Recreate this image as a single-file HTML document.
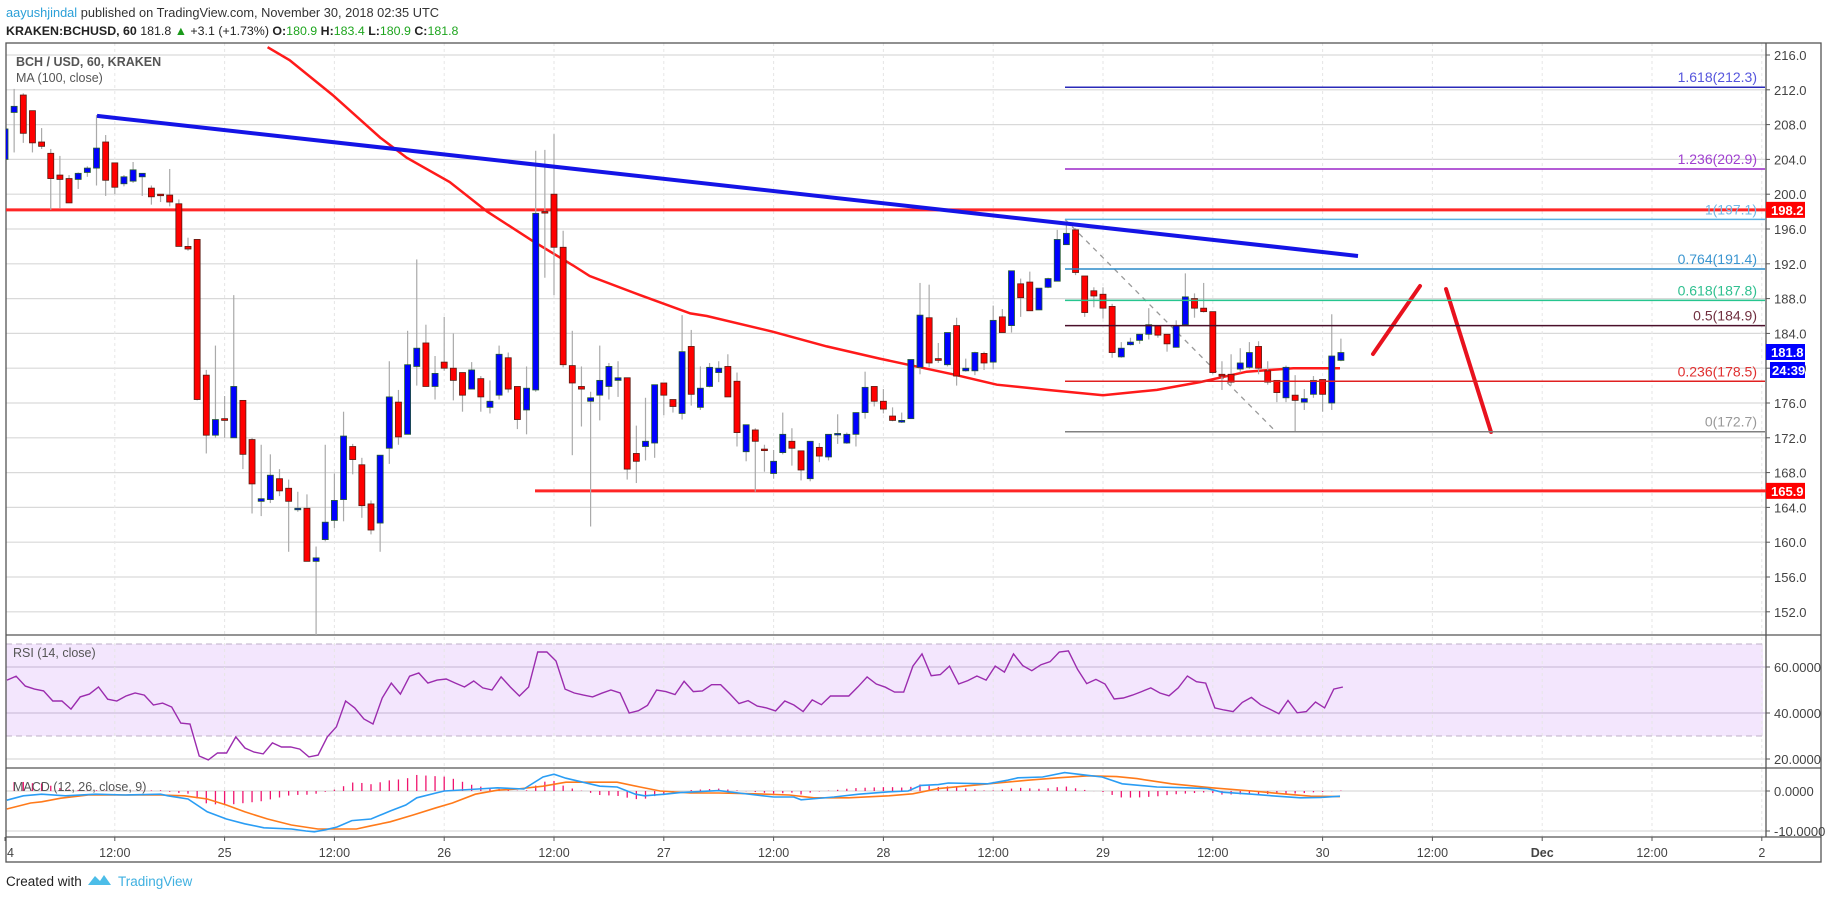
<!DOCTYPE html>
<html><head><meta charset="utf-8"><style>
html,body{margin:0;padding:0;background:#fff;width:1828px;height:899px;overflow:hidden}
svg{display:block;font-family:"Liberation Sans",sans-serif}
</style></head><body>
<svg id="chart" width="1828" height="899" viewBox="0 0 1828 899" xmlns="http://www.w3.org/2000/svg"></svg>
<script>
// ---- data ----
const dayLabels = ["24","12:00","25","12:00","26","12:00","27","12:00","28","12:00","29","12:00","30","12:00","Dec","12:00","2"];
const priceTicks = [216,212,208,204,200,196,192,188,184,180,176,172,168,164,160,156,152];
const rsiTicks = [60,40,20];
const macdTicks = [0,-10];
const opens = [204.0,209.4,211.4,209.6,206.0,204.7,202.2,201.8,201.7,202.5,
203.0,206.0,203.6,201.2,201.5,202.0,200.7,200.0,199.9,198.9,
194.0,194.8,179.2,172.3,174.2,172.0,176.3,171.8,164.7,164.9,
167.3,166.2,163.8,163.9,157.8,160.3,162.5,164.9,171.0,168.9,
164.4,162.2,170.8,176.1,172.4,180.2,182.9,177.9,180.7,180.0,
179.5,177.6,178.8,175.5,176.9,181.2,177.9,175.2,177.5,198.0,
200.0,193.9,180.3,177.9,176.2,176.9,177.9,178.6,178.9,170.2,
171.0,171.4,178.3,176.4,174.8,182.5,175.5,177.9,179.5,180.2,
178.5,170.4,172.9,170.7,167.9,170.3,171.6,170.5,167.3,170.9,
169.8,172.4,171.4,172.4,174.9,177.9,176.2,174.5,173.8,174.2,
180.1,185.8,181.1,180.4,184.9,179.7,179.7,181.7,180.7,185.9,
184.9,189.7,189.9,186.7,189.3,190.0,194.2,195.9,190.6,188.9,
188.5,187.1,181.3,182.7,183.2,183.9,184.9,183.9,182.4,185.0,
188.0,186.9,186.5,179.3,179.3,179.9,180.1,182.5,179.7,178.6,
176.6,176.9,176.1,177.0,178.7,176.0,180.9];
const highs = [208.2,212.1,211.6,209.6,207.6,205.2,204.4,202.2,202.5,203.2,
209.1,206.8,203.6,202.2,203.7,202.4,201.0,200.0,202.9,199.4,
195.0,194.8,179.8,182.6,176.8,188.4,176.3,172.0,171.2,170.1,
168.4,167.2,165.8,165.5,159.5,171.2,167.9,175.0,171.3,169.7,
164.8,170.0,180.8,177.5,184.3,192.5,185.0,181.4,185.9,184.0,
179.5,180.7,179.1,178.6,182.6,181.8,177.9,180.2,205.0,205.1,
206.9,195.8,184.3,180.2,177.3,182.6,180.6,180.8,178.9,173.4,
176.6,178.1,178.3,176.4,186.1,184.4,180.2,180.6,180.8,181.6,
179.5,173.5,173.1,171.2,170.6,174.9,173.1,170.5,171.6,171.4,
172.4,174.7,172.6,174.9,179.6,177.9,177.6,175.5,174.9,181.0,
189.8,189.6,182.9,184.1,185.8,181.1,181.9,181.9,187.2,186.8,
191.2,190.3,191.1,189.2,190.4,195.9,197.1,196.1,190.6,189.3,
189.3,187.4,183.0,183.5,183.9,186.9,184.9,183.9,185.5,190.9,
188.6,189.8,186.5,180.8,181.6,182.3,183.0,183.1,180.8,178.6,
180.3,179.2,177.6,179.1,178.7,186.2,183.4];
const lows = [203.1,204.8,205.9,204.8,205.2,198.2,198.4,199.0,200.6,202.0,
201.0,199.8,200.0,200.9,201.3,199.8,198.8,199.1,198.6,194.0,
193.5,176.3,170.2,172.0,172.0,172.0,168.4,163.3,163.0,164.5,
165.3,158.9,163.5,157.8,149.3,160.1,161.6,162.4,167.8,162.8,
160.9,158.9,169.0,171.2,172.4,178.0,177.9,176.4,179.7,176.3,
175.0,177.6,175.0,174.8,176.4,177.2,173.0,172.4,177.3,190.4,
188.4,180.1,170.0,173.3,161.8,174.0,176.4,176.7,167.2,166.8,
169.4,169.7,174.6,174.9,174.1,175.7,175.2,177.8,178.4,176.7,
171.0,169.3,165.8,168.1,167.3,170.1,168.8,167.1,167.0,169.2,
169.4,171.3,171.3,171.0,174.2,175.6,174.8,173.9,173.7,174.2,
179.3,180.1,180.6,180.2,178.0,179.6,179.2,179.8,179.9,184.1,
184.1,185.9,186.6,186.7,189.2,190.0,194.2,190.7,185.9,187.0,
185.7,181.2,181.2,182.6,182.8,183.3,183.5,181.9,182.4,185.0,
185.8,186.4,179.3,177.5,178.0,179.5,179.9,179.3,178.1,176.1,
176.1,172.7,175.2,176.6,175.0,175.2,180.8];
const closes = [207.5,210.1,207.0,205.9,205.5,201.8,201.7,199.0,202.4,203.0,
205.3,201.6,200.8,202.0,202.8,202.4,199.7,199.9,199.1,194.0,
193.7,176.4,172.3,174.1,174.0,177.9,170.1,166.7,165.0,167.7,
165.9,164.7,163.9,157.8,158.2,162.3,164.8,172.2,169.5,164.2,
161.4,170.0,176.7,172.1,180.4,182.3,177.9,179.4,180.0,178.6,
176.9,179.8,176.7,176.2,181.6,177.6,174.1,177.7,197.8,197.9,
193.9,180.4,178.3,177.6,176.6,178.6,180.2,178.9,168.4,169.3,
171.6,178.1,176.9,175.6,181.9,177.0,177.7,180.1,180.0,176.7,
172.6,173.5,171.6,170.6,169.3,172.4,170.8,168.3,171.6,169.9,
172.4,172.5,172.4,174.9,177.8,176.2,175.3,174.0,174.0,181.0,
186.1,180.6,180.9,184.1,179.1,180.0,181.8,180.6,185.5,184.1,
191.2,188.1,186.6,189.2,190.3,194.8,195.5,191.0,186.4,188.3,
186.9,181.8,182.3,183.0,183.9,185.0,183.8,182.8,184.9,188.2,
186.9,186.5,179.5,179.1,178.4,180.6,181.8,180.0,178.4,177.2,
180.1,176.3,176.5,178.6,177.0,181.4,181.8];
const maHours = [28.7,31.1,35.8,41,43.9,48.6,52.7,57.7,62.1,63.9,69.4,74.9,76.7,83.9,87.7,89.8,95.6,103.6,108.4,113.9,120,125.9,130.6,135.7,140.8,145.9];
const maValues = [216.9,215.4,211.4,206.5,204.2,201.4,198.0,194.6,191.8,190.6,188.4,186.3,186.0,184.2,183.1,182.5,181.1,179.3,178.1,177.5,176.9,177.5,178.4,179.6,180.0,180.0];
const rsiValues = [54.3,56,51.7,50.4,49.6,45.2,45.2,41.7,47,48.2,51.3,46,45.2,47.4,48.7,47.8,43.5,44.3,42.6,35.6,
35.2,21.3,19.6,22.6,22.6,29.6,24.8,23,22.2,27,25.2,25.2,24.3,20.9,21.7,29.6,34,45.2,42.2,37.4,
35.2,46.5,53,48.2,56,57.4,53,54.3,54.8,53,51.3,53.9,50.9,50,55.7,51.3,47.4,51.3,66.5,66.5,
62.6,50.4,48.7,47.8,47,48.6,50,48.7,40,41,43.3,50,49.3,48,53.8,49.3,49.6,52.3,52.3,48.3,
44.1,45.4,43,42.2,40.9,45.2,43.5,40.6,45.7,43.6,47.4,47.4,47.4,51.4,55.7,52.6,51.2,49.1,49.1,60.4,
65.7,56.2,56.7,60.4,52.6,54.1,56.1,54.3,60.4,57.8,65.7,60.6,58.4,61,62.3,66.5,67,59,52.8,54.6,
52.6,46.1,46.5,47.8,49.3,50.9,48.7,47.5,50.9,56.1,53.6,53,42.2,41.3,40.6,44.6,46.8,43.6,41.7,39.7,
45.5,40.1,40.6,44.8,42.2,50.4,51.3];
const macdHours = [0.2,2,4,6.6,9.9,13.2,17,17.8,20,22.1,24.2,26.2,28.3,31.3,32.9,33.8,35,36.3,37.9,40,42.1,43.8,45,47.1,48,51.7,53.8,56.7,58.8,60,61.3,65,66.9,68.9,69.9,72.1,73.8,78,80.2,84,86.2,87,90.6,93.3,96.6,98.7,100.1,102,103.1,107.4,109.6,110.7,113.4,115.8,118.4,119.9,122.1,125.9,129.2,131.4,133,136.3,139,141.6,143.8,145.9];
const macdValues = [-2.3,-1.2,-0.8,-1.2,-0.8,-1,-0.8,-1.2,-2,-5.2,-7,-8.2,-9.2,-9.5,-10,-10.2,-9.7,-9,-7.4,-7,-5,-3.5,-1.7,-0.5,0,0.5,0.8,0.5,3.5,4.2,3.2,1.2,1.0,-0.8,-1.2,-0.8,-0.4,0.1,-0.5,-1.5,-1.5,-2.2,-1.5,-0.8,-0.2,0,1.4,1.6,2,1.8,2.7,3.3,3.5,4.6,3.9,3.5,1.8,1,0.8,0.6,-0.3,-0.8,-1.3,-1.7,-1.6,-1.3];
const signalHours = [0.2,2.8,4,6.1,9.1,17,19.6,22.1,24.2,26.2,28.7,31.3,34.2,36.3,38.4,40,42.1,44.6,47.1,48.9,51.4,53.8,56,58.8,61.3,63.9,66.9,69.4,71.6,74.9,78,81.9,85.7,88.4,92.2,96.6,99.2,102,105.2,108.5,111.8,115.1,118.4,121.5,123.7,127.5,131.9,136.3,140.1,142.7,145.9];
const signalValues = [-4.5,-3,-2.7,-1.8,-1,-1,-1.2,-2,-3.5,-5.2,-7,-8.5,-9.5,-9.5,-9.5,-8.7,-7.7,-6,-4.2,-3,-0.8,0.2,0.5,1.2,2.2,2.2,2.2,1,0,-0.5,-0.5,-0.7,-1,-1.7,-1.7,-1.2,-0.7,0.6,1.3,2,2.7,3.3,3.8,3.6,3.1,1.8,0.8,0,-0.8,-1.3,-1.4];
const fibLevels = [212.3,202.9,197.1,191.4,187.8,184.9,178.5,172.7];
const fibRatios = ["1.618","1.236","1","0.764","0.618","0.5","0.236","0"];
const hLevels = [198.2,165.9];

// ---- scales ----
const HPX = 9.15, X0 = 5;
function xH(h){return X0 + h*HPX;}
function yP(p){return 55 + (216-p)*8.7;}
function yR(r){return 667 + (60-r)*2.3;}
function yM(v){return 791 - v*4;}
const AX = 1766, RIGHT = 1821, TOP = 43, MAINB = 635, RSIB = 768, TAX = 837, BOT = 862;

const svg = document.getElementById('chart');
const NS = 'http://www.w3.org/2000/svg';
function mk(tag, attrs, parent){
  const e = document.createElementNS(NS, tag);
  for (const k in attrs) e.setAttribute(k, attrs[k]);
  (parent||svg).appendChild(e);
  return e;
}
function txt(s, attrs, parent){ const t = mk('text', attrs, parent); t.textContent = s; return t; }

// header
const h1 = txt('', {x:6, y:17, 'font-size':'12.8', fill:'#333'});


h1.innerHTML = '<tspan fill="#2ca0d8">aayushjindal</tspan> published on TradingView.com, November 30, 2018 02:35 UTC';
const h2 = txt('', {x:6, y:35, 'font-size':'12.4', fill:'#222'});


h2.innerHTML = '<tspan font-weight="bold">KRAKEN:BCHUSD, 60</tspan> 181.8 <tspan fill="#1a9a1a">▲</tspan> +3.1 (+1.73%) <tspan font-weight="bold">O:</tspan><tspan fill="#1ea51e">180.9</tspan> <tspan font-weight="bold">H:</tspan><tspan fill="#1ea51e">183.4</tspan> <tspan font-weight="bold">L:</tspan><tspan fill="#1ea51e">180.9</tspan> <tspan font-weight="bold">C:</tspan><tspan fill="#1ea51e">181.8</tspan>';

// clip paths
const defs = mk('defs', {});
const cp = mk('clipPath', {id:'mainclip'}, defs); mk('rect', {x:6, y:TOP, width:AX-6, height:MAINB-TOP}, cp);
const cp2 = mk('clipPath', {id:'macdclip'}, defs); mk('rect', {x:6, y:RSIB, width:AX-6, height:TAX-RSIB}, cp2);

// rsi band
const band = mk('rect', {x:6, y:yR(70), width:1757, height:yR(30)-yR(70), fill:'#f3e6fd'});



// grid
const grid = mk('g', {});


priceTicks.forEach(p => mk('line', {x1:6, x2:AX, y1:yP(p), y2:yP(p), stroke:'#d9d9d9', 'stroke-width':1.2}, grid));
rsiTicks.forEach(r => mk('line', {x1:6, x2:AX, y1:yR(r), y2:yR(r), stroke: r===20?'#d9d9d9':'#cdbfdc', 'stroke-width':1.2}, grid));
macdTicks.forEach(v => mk('line', {x1:6, x2:AX, y1:yM(v), y2:yM(v), stroke:'#d9d9d9', 'stroke-width':1.2}, grid));
dayLabels.forEach((d,i) => { const x = xH(i*12); if (x>8 && x<AX) mk('line', {x1:x, x2:x, y1:TOP, y2:TAX, stroke:'#e6e6e6', 'stroke-dasharray':'3,3'}, grid); });
[70,30].forEach(r => mk('line', {x1:6, x2:1763, y1:yR(r), y2:yR(r), stroke:'#bfb0c8', 'stroke-dasharray':'6,4'}, grid));

// frame and separators
const frame = mk('g', {});


mk('rect', {x:6, y:TOP, width:RIGHT-6, height:BOT-TOP, fill:'none', stroke:'#555', 'stroke-width':1.3}, frame);
mk('line', {x1:AX, x2:AX, y1:TOP, y2:TAX, stroke:'#555', 'stroke-width':1.3}, frame);
[MAINB, RSIB, TAX].forEach(y => mk('line', {x1:6, x2:RIGHT, y1:y, y2:y, stroke:'#555', 'stroke-width':1.3}, frame));

// main pane group
const main = mk('g', {'clip-path':'url(#mainclip)'});



// horizontal lines
hLevels.forEach((p,i) => {
  const x1 = i===0 ? 6 : 535;
  const l = mk('line', {x1:x1, x2:AX, y1:yP(p), y2:yP(p), stroke:'#ff2626', 'stroke-width':3}, main);
  
  
});

// fib
const fibColors = ['#2a2ab8','#9c27c8','#5ab0e0','#2a8ac8','#26c58f','#4a0f2a','#e02020','#808080'];
const fibText = ['#5555dd','#a040d0','#70b8e8','#3a95d0','#30c090','#703040','#e03030','#999999'];
const fibG = mk('g', {});


fibLevels.forEach((p,i) => {
  mk('line', {x1:1065, x2:1765, y1:yP(p), y2:yP(p), stroke:fibColors[i], 'stroke-width':1.5}, fibG);
  const t = txt(fibRatios[i] + '(' + p.toFixed(1) + ')', {x:1757, y:yP(p)-5, 'text-anchor':'end', 'font-size':'14', fill:fibText[i]}, fibG);
  
  
});
const diag = mk('line', {x1:1065, y1:yP(fibLevels[2]), x2:1276, y2:yP(fibLevels[7]), stroke:'#999', 'stroke-width':1.3, 'stroke-dasharray':'5,5'}, main);



// MA
let mad = '';
maHours.forEach((h,i) => { mad += (i?'L':'M') + xH(h).toFixed(1) + ',' + yP(maValues[i]).toFixed(1); });
const ma = mk('path', {d:mad, fill:'none', stroke:'#ff1a1a', 'stroke-width':2.5}, main);



// candles
const cg = mk('g', {}, main);


closes.forEach((c,i) => {
  const o = opens[i], x = xH(i), up = c >= o;
  const w = mk('line', {x1:x, x2:x, y1:yP(highs[i]), y2:yP(lows[i]), stroke:'#aaa', 'stroke-width':1.2}, cg);
  
  
  const top = yP(Math.max(o,c)), bh = Math.max(1.5, Math.abs(yP(o)-yP(c)));
  const b = mk('rect', {x:x-3, y:top, width:6, height:bh, fill: up?'#0000ff':'#ff0000', stroke: up?'#245a30':'#5a1a10', 'stroke-width':0.8}, cg);
  
  
});

// trendline
const tl = mk('line', {x1:97, y1:yP(209.0), x2:1358, y2:yP(192.9), stroke:'#1414e6', 'stroke-width':4}, main);



// projection arrows
const pr1 = mk('line', {x1:1373, y1:354, x2:1420, y2:286, stroke:'#e8121e', 'stroke-width':4, 'stroke-linecap':'round'}, main);


const pr2 = mk('line', {x1:1446, y1:289, x2:1491, y2:432, stroke:'#e8121e', 'stroke-width':4, 'stroke-linecap':'round'}, main);



// legends
const lg1 = txt('BCH / USD, 60, KRAKEN', {x:16, y:66, 'font-size':'12.5', fill:'#555', 'font-weight':'bold'});


const lg2 = txt('MA (100, close)', {x:16, y:82, 'font-size':'12.5', fill:'#555'});



// RSI
let rd = '';
rsiValues.forEach((r,i) => { rd += (i?'L':'M') + (xH(i)+2).toFixed(1) + ',' + yR(r).toFixed(1); });
const rsi = mk('path', {d:rd, fill:'none', stroke:'#9b2cae', 'stroke-width':1.4});


const rl = txt('RSI (14, close)', {x:13, y:657, 'font-size':'12.5', fill:'#555'});



// MACD
function interp(hs, vs, h){
  if (h <= hs[0]) return vs[0];
  for (let i=1;i<hs.length;i++) if (h <= hs[i]) { const t=(h-hs[i-1])/(hs[i]-hs[i-1]); return vs[i-1]+t*(vs[i]-vs[i-1]); }
  return vs[vs.length-1];
}
const mg = mk('g', {'clip-path':'url(#macdclip)'});


for (let h=0; h<=146; h++){
  const d = interp(macdHours, macdValues, h) - interp(signalHours, signalValues, h);
  const hb = mk('line', {x1:xH(h), x2:xH(h), y1:yM(0), y2:yM(d), stroke:'#f0146e', 'stroke-width':1.3}, mg);
  
  
}
let sd = ''; signalHours.forEach((h,i) => { sd += (i?'L':'M') + xH(h).toFixed(1) + ',' + yM(signalValues[i]).toFixed(1); });
const sig = mk('path', {d:sd, fill:'none', stroke:'#ff7a1a', 'stroke-width':1.6}, mg);


let md = ''; macdHours.forEach((h,i) => { md += (i?'L':'M') + xH(h).toFixed(1) + ',' + yM(macdValues[i]).toFixed(1); });
const macd = mk('path', {d:md, fill:'none', stroke:'#2a9df4', 'stroke-width':1.6}, mg);


const ml = txt('MACD (12, 26, close, 9)', {x:13, y:791, 'font-size':'12.5', fill:'#555'});



// price axis
const pa = mk('g', {});


priceTicks.forEach(p => {
  mk('line', {x1:AX, x2:AX+4, y1:yP(p), y2:yP(p), stroke:'#555'}, pa);
  txt(p.toFixed(1), {x:AX+8, y:yP(p)+5, 'font-size':'13', fill:'#444'}, pa);
});
rsiTicks.forEach(r => { mk('line', {x1:AX, x2:AX+4, y1:yR(r), y2:yR(r), stroke:'#555'}, pa); txt(r.toFixed(4), {x:AX+8, y:yR(r)+5, 'font-size':'13', fill:'#444'}, pa); });
macdTicks.forEach(v => { mk('line', {x1:AX, x2:AX+4, y1:yM(v), y2:yM(v), stroke:'#555'}, pa); txt(v.toFixed(4), {x:AX+8, y:yM(v)+5, 'font-size':'13', fill:'#444'}, pa); });
function box(label, y, col, name){
  const g = mk('g', {});
  
  
  mk('rect', {x:AX, y:y-8, width:39, height:16, fill:col}, g);
  txt(label, {x:AX+5, y:y+5, 'font-size':'13', 'font-weight':'bold', fill:'#fff'}, g);
}
box(hLevels[0].toFixed(1), yP(hLevels[0]), '#ff0000', 'resistance-price-tag');
box(hLevels[1].toFixed(1), yP(hLevels[1]), '#ff0000', 'support-price-tag');
box(closes[closes.length-1].toFixed(1), 352, '#0000ff', 'last-price-tag');
mk('rect', {x:AX+4, y:362, width:35, height:16, fill:'#0000ff'});
const cd = txt('24:39', {x:AX+6, y:375, 'font-size':'13', 'font-weight':'bold', fill:'#fff'});



// time axis
const ta = mk('g', {});


dayLabels.forEach((d,i) => {
  const x = xH(i*12);
  mk('line', {x1:x, x2:x, y1:TAX, y2:TAX+4, stroke:'#555'}, ta);
  txt(i===0 ? '4' : d, {x: i===0 ? 7 : x, y:857, 'font-size':'12.5', fill:'#444', 'text-anchor': i===0?'start':'middle', 'font-weight': d==='Dec'?'bold':'normal'}, ta);
});

// footer
const ft = txt('Created with', {x:6, y:886, 'font-size':'13.5', fill:'#222'});


const logo = mk('path', {d:'M88,885 L95,876 L100,881 L104,875 L111,885 Z', fill:'#4cbde8'});


const tv = txt('TradingView', {x:118, y:886, 'font-size':'13.5', fill:'#3fb0e0'});


</script>
</body></html>
